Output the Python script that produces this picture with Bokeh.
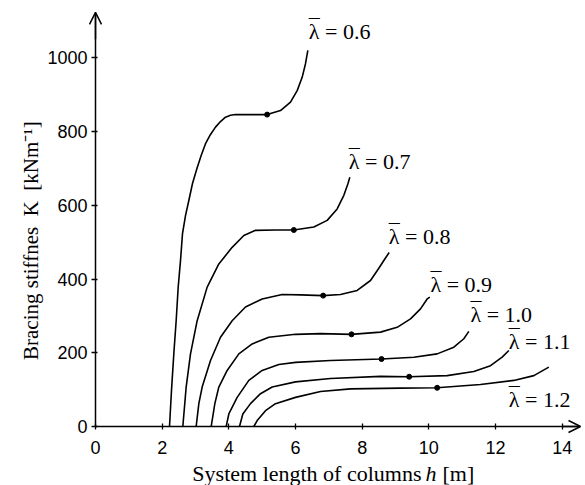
import math
from bokeh.plotting import figure
from bokeh.models import Range1d, FixedTicker, Arrow, OpenHead
from bokeh.core.properties import value
from bokeh.embed import file_html
from bokeh.resources import INLINE

# ---- data ----
h_06 = [2.22, 2.28, 2.35, 2.42, 2.48, 2.55, 2.61, 2.70, 2.80, 2.91, 3.05, 3.17, 3.30, 3.45, 3.60, 3.75, 3.90, 4.05, 4.20, 4.65, 5.15, 5.55, 5.85, 6.05, 6.20, 6.30, 6.37]
k_06 = [0, 98, 198, 287, 377, 450, 523, 572, 613, 659, 702, 735, 767, 792, 812, 827, 839, 844, 846, 846, 846, 857, 880, 911, 947, 984, 1020]

h_07 = [2.62, 2.72, 2.85, 3.05, 3.35, 3.70, 4.10, 4.45, 4.80, 5.40, 5.95, 6.55, 6.95, 7.25, 7.45, 7.57, 7.63]
k_07 = [0, 107, 197, 287, 378, 441, 486, 518, 532, 533, 533, 541, 559, 590, 627, 658, 676]

h_08 = [3.02, 3.10, 3.20, 3.45, 3.75, 4.10, 4.50, 5.00, 5.60, 6.15, 6.83, 7.35, 7.85, 8.25, 8.49, 8.67, 8.81]
k_08 = [0, 62, 107, 179, 242, 287, 324, 346, 358, 357, 355, 358, 369, 396, 428, 453, 472]

h_09 = [3.47, 3.58, 3.70, 3.95, 4.30, 4.70, 5.20, 6.00, 6.75, 7.68, 8.55, 9.05, 9.45, 9.75, 9.95, 10.03]
k_09 = [0, 62, 107, 152, 197, 224, 242, 250, 252, 250, 256, 269, 292, 319, 346, 351]

h_10 = [3.92, 4.00, 4.25, 4.60, 5.00, 5.50, 6.00, 7.05, 8.58, 9.55, 10.25, 10.75, 11.05, 11.20]
k_10 = [0, 34, 79, 125, 152, 168, 174, 179, 183, 188, 197, 215, 238, 258]

h_11 = [4.32, 4.42, 4.65, 4.95, 5.30, 6.00, 7.05, 8.55, 9.41, 10.55, 11.35, 11.85, 12.20, 12.40]
k_11 = [0, 34, 62, 89, 107, 121, 130, 136, 135, 138, 149, 165, 188, 206]

h_12 = [4.75, 4.85, 5.10, 5.40, 6.00, 6.75, 7.65, 9.15, 10.25, 11.55, 12.55, 13.15, 13.60]
k_12 = [0, 16, 43, 62, 79, 95, 102, 104, 105, 114, 125, 138, 161]

dot_h = [5.15, 5.95, 6.83, 7.68, 8.58, 9.41, 10.25]
dot_k = [846, 533, 355, 250, 183, 135, 105]

lambdas = ["0.6", "0.7", "0.8", "0.9", "1.0", "1.1", "1.2"]
label_h = [6.40, 7.60, 8.80, 10.05, 11.25, 12.40, 12.40]
label_k = [1047, 694, 491, 360, 280, 206, 49]

x_ticks = [0, 2, 4, 6, 8, 10, 12, 14]
y_ticks = [0, 200, 400, 600, 800, 1000]

x_title_parts = ["System length of columns", "h", "[m]"]
x_title_pos = [9.78, 9.90, 10.41]
x_title_k = -141
y_title = "Bracing stiffnes\u00a0 K\u00a0 [kNm\u207b\u00b9]"
y_title_pos = (-1.95, 504)

curves = [(h_06, k_06), (h_07, k_07), (h_08, k_08), (h_09, k_09),
          (h_10, k_10), (h_11, k_11), (h_12, k_12)]

SERIF = "Liberation Serif"
SANS = "Liberation Sans"
BASE_SHIFT = -9   # px, lifts alphabetic-baseline texts onto their intended baseline
TITLE_SHIFT = -5

# frame covers the whole canvas; axes sit at h = 0 and K = 0
p = figure(width=583, height=485, x_range=Range1d(-2.85, 14.64), y_range=Range1d(-160.0, 1155.4),
           output_backend="svg", toolbar_location=None,
           min_border_left=0, min_border_right=0, min_border_top=0, min_border_bottom=0)
p.grid.visible = False
p.outline_line_color = None

for ax in (p.xaxis[0], p.yaxis[0]):
    ax.fixed_location = 0
    ax.axis_line_color = "black"
    ax.axis_line_width = 1.5
    ax.major_tick_line_color = "black"
    ax.major_tick_line_width = 1.3
    ax.minor_tick_line_color = None
    ax.major_label_text_font = SANS
    ax.major_label_text_font_size = "18px"
    ax.major_label_text_color = "black"

p.xaxis.bounds = (0, 14.5)
p.yaxis.bounds = (0, 1120)
p.xaxis.ticker = FixedTicker(ticks=x_ticks)
p.yaxis.ticker = FixedTicker(ticks=y_ticks)
p.xaxis.major_tick_in = 3
p.xaxis.major_tick_out = 3
p.yaxis.major_tick_in = 2
p.yaxis.major_tick_out = 4
p.xaxis.major_label_standoff = 11
p.yaxis.major_label_standoff = 4

for hs, ks in curves:
    p.line(hs, ks, line_color="black", line_width=1.6, line_join="round")

p.scatter(dot_h, dot_k, size=5, color="black")

p.text(x=label_h, y=label_k, text=["\u03bb = " + v for v in lambdas], y_offset=BASE_SHIFT,
       text_font=value(SERIF), text_font_size="22px", text_color="black",
       text_align="left", text_baseline="alphabetic")
# overbar of lambda
p.text(x=label_h, y=label_k, text=["\u2013"] * len(lambdas), y_offset=BASE_SHIFT - 15,
       text_font=value(SERIF), text_font_size="22px", text_color="black",
       text_align="left", text_baseline="alphabetic")

# axis arrows
p.add_layout(Arrow(end=OpenHead(size=12, line_width=1.5, line_color="black"),
                   x_start=0, y_start=1050, x_end=0, y_end=1123,
                   line_width=1.5, line_color="black"))
p.add_layout(Arrow(end=OpenHead(size=12, line_width=1.5, line_color="black"),
                   x_start=14.0, y_start=0, x_end=14.55, y_end=0,
                   line_width=1.5, line_color="black"))

# axis titles
p.text(x=[y_title_pos[0]], y=[y_title_pos[1]], text=[y_title], angle=math.pi / 2,
       text_font=value(SERIF), text_font_size="21px", text_color="black",
       text_align="center", text_baseline="middle")
p.text(x=[x_title_pos[0]], y=[x_title_k], text=[x_title_parts[0]], y_offset=TITLE_SHIFT,
       text_font=value(SERIF), text_font_size="22px", text_color="black",
       text_align="right", text_baseline="alphabetic")
p.text(x=[x_title_pos[1]], y=[x_title_k], text=[x_title_parts[1]], y_offset=TITLE_SHIFT,
       text_font=value(SERIF), text_font_style="italic", text_font_size="22px",
       text_color="black", text_align="left", text_baseline="alphabetic")
p.text(x=[x_title_pos[2]], y=[x_title_k], text=[x_title_parts[2]], y_offset=TITLE_SHIFT,
       text_font=value(SERIF), text_font_size="22px", text_color="black",
       text_align="left", text_baseline="alphabetic")

open("out.html", "w").write(file_html(p, INLINE))
